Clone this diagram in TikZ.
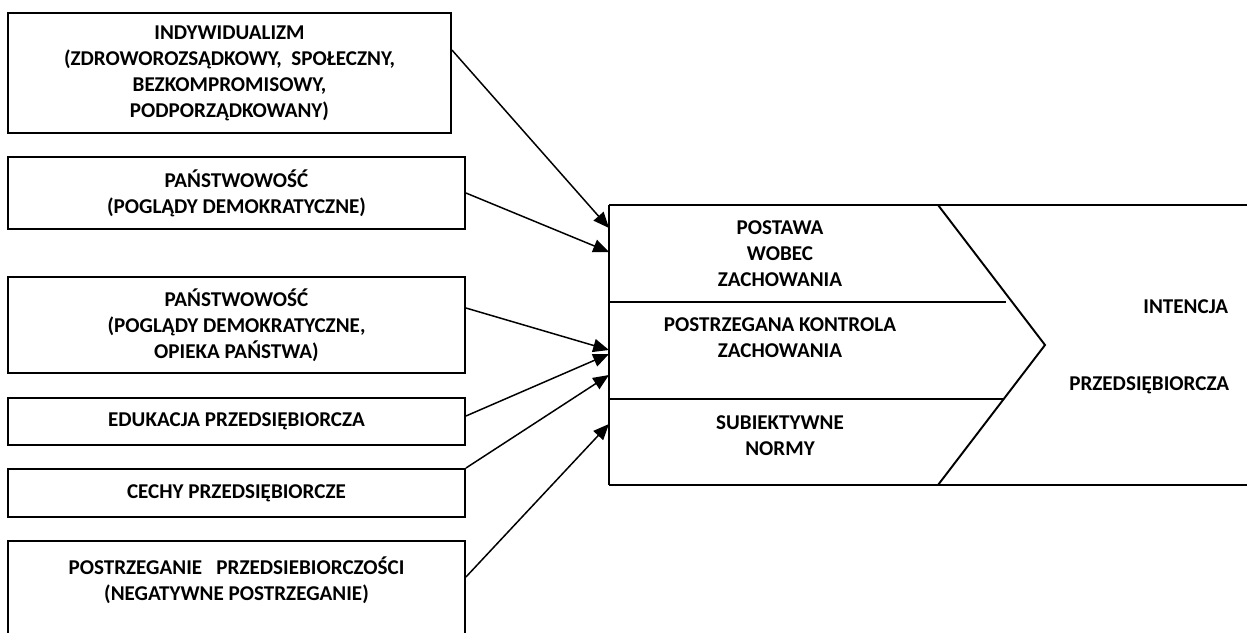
\documentclass[tikz,border=0pt]{standalone}
\usepackage{fontspec}
\setmainfont{Carlito}
\usetikzlibrary{arrows.meta}

\begin{document}
\begin{tikzpicture}[x=0.02cm,y=-0.02cm,line width=1.1pt,
      every node/.style={font=\fontsize{12}{14.8}\selectfont\bfseries,align=center},
      box/.style={draw,inner sep=0pt,minimum width=9.14cm},
      arr/.style={->,line width=0.85pt},
      >={Triangle[length=9pt,width=7.5pt]}]
      \useasboundingbox(0,0)rectangle(1247,632);
      \clip(0,0)rectangle(1247,632);
      % czynniki
      \node[box,minimum width=8.86cm,minimum height=2.4cm](indyw)at(229.5,73)
        {INDYWIDUALIZM\\(ZDROWOROZSĄDKOWY,\ \ SPOŁECZNY,\\BEZKOMPROMISOWY,\\PODPORZĄDKOWANY)};
      \node[box,minimum height=1.44cm](panst)at(236.5,193)
        {PAŃSTWOWOŚĆ\\(POGLĄDY DEMOKRATYCZNE)};
      \node[box,minimum height=1.92cm](opieka)at(236.5,325)
        {PAŃSTWOWOŚĆ\\(POGLĄDY DEMOKRATYCZNE,\\OPIEKA PAŃSTWA)};
      \node[box,minimum height=0.94cm](eduk)at(236.5,421.5){EDUKACJA PRZEDSIĘBIORCZA};
      \node[box,minimum height=0.96cm](cechy)at(236.5,493){CECHY PRZEDSIĘBIORCZE};
      \node[box,minimum height=2.04cm](postrz)at(236.5,592)
        {POSTRZEGANIE\ \ \ PRZEDSIEBIORCZOŚCI\\(NEGATYWNE POSTRZEGANIE)\\\mbox{}};
      % model
      \draw(609,205)--(1260,205)(609,485)--(1260,485)(609,205)--(609,485);
      \draw(938,205)--(1045,345)--(938,485);
      \draw(609,302)--(1006,302)(609,399)--(1003,399);
      \node(postawa)at(780,254){POSTAWA\\WOBEC\\ZACHOWANIA};
      \node(kontrola)at(780,338){POSTRZEGANA KONTROLA\\ZACHOWANIA};
      \node(normy)at(780,435.5){SUBIEKTYWNE\\NORMY};
      \node[anchor=east](intencja)at(1235,307){INTENCJA};
      \node[anchor=east](przeds)at(1236,385){PRZEDSIĘBIORCZA};
      \coordinate(e1)at(609,228);\coordinate(e2)at(609,252);
      \coordinate(e3)at(609,350);\coordinate(e4)at(609,354);
      \coordinate(e5)at(609,375);\coordinate(e6)at(609,424);
      \draw[arr]([yshift=0.46cm]indyw.east)--(e1);
      \draw[arr](panst.east)--(e2);
      \draw[arr]([yshift=0.34cm]opieka.east)--(e3);
      \draw[arr]([yshift=0.11cm]eduk.east)--(e4);
      \draw[arr](cechy.north east)--(e5);
      \draw[arr]([yshift=0.3cm]postrz.east)--(e6);
   \end{tikzpicture}
\end{document}
